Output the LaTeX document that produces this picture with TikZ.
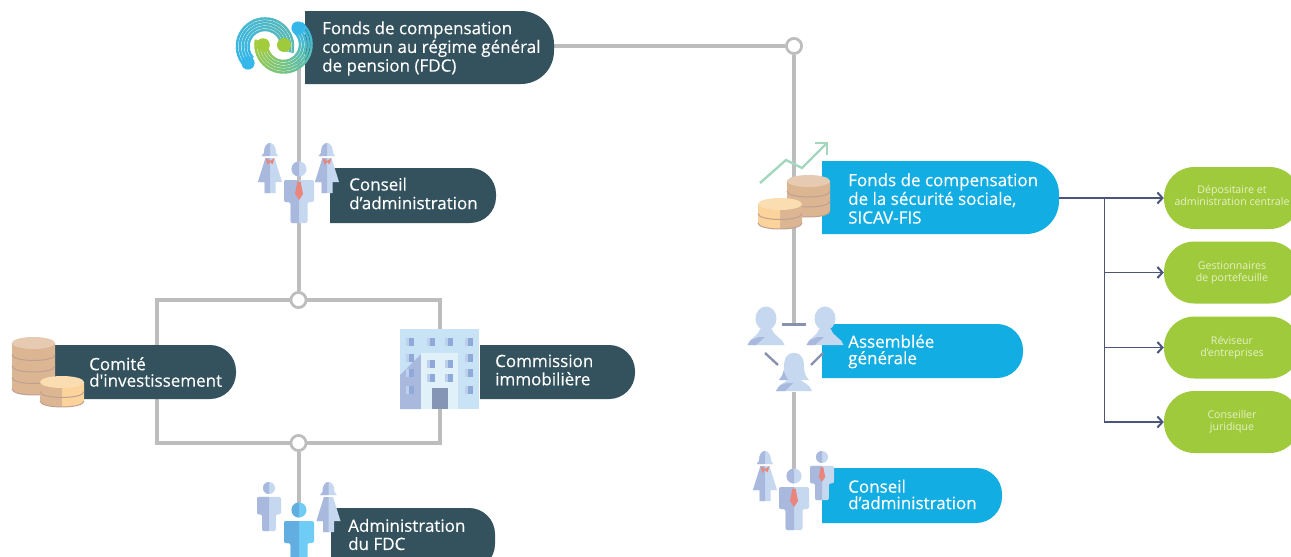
\documentclass[tikz,border=0pt]{standalone}
\usepackage{fontspec}
\setmainfont{Open Sans}
\newfontfamily\labfont{Open Sans}[FakeBold=0.25]
\usetikzlibrary{fit,arrows.meta,calc}
\definecolor{dk}{HTML}{34525E}
\definecolor{bl}{HTML}{12ADE3}
\definecolor{gr}{HTML}{9FCA3C}
\definecolor{grtx}{HTML}{E6F1C6}
\definecolor{ln}{HTML}{BDBDBD}
\definecolor{sl}{HTML}{4A5578}
\definecolor{pL}{HTML}{A9B9DE}
\definecolor{pR}{HTML}{C6D8F0}
\definecolor{tie}{HTML}{E9857A}
\definecolor{bL}{HTML}{62AEE0}
\definecolor{bR}{HTML}{6FCDF5}
\definecolor{cT}{HTML}{E6CBB2}
\definecolor{cB}{HTML}{DCB592}
\definecolor{cS}{HTML}{FCD39A}
\definecolor{cST}{HTML}{FBDDB2}
\definecolor{cLn}{HTML}{BFA092}
\definecolor{lgA}{HTML}{35B7EA}
\definecolor{lgB}{HTML}{5FB9AE}
\definecolor{lgC}{HTML}{A3CC3C}
\definecolor{trend}{HTML}{A3D8BF}
\definecolor{bdg}{HTML}{C9E3F6}
\definecolor{bdgin}{HTML}{E0F1F9}
\definecolor{door}{HTML}{8595B5}
\definecolor{win}{HTML}{8FA9D8}
\definecolor{winl}{HTML}{BED0EC}
\definecolor{tick}{HTML}{8891AD}
\tikzset{
  x=1pt,y=-1pt,
  lab/.style={text=white,align=left,inner sep=0pt,anchor=west},
  wire/.style={draw=ln,line width=4pt},
  junction/.style={circle,draw=ln,line width=2.6pt,fill=white,minimum size=15pt,inner sep=0pt},
  feed/.style={draw=sl,line width=1.8pt},
  feedto/.style={feed,-{Straight Barb[length=5pt,width=11pt,line width=2pt]}},
  greenbox/.style={fill=gr,rounded corners=30.5pt,minimum width=136pt,minimum height=62pt,inner sep=0pt},
  greentext/.style={text=grtx,align=center,inner sep=0pt,font=\fontsize{10.6}{12.4}\selectfont},
}
\newcommand\tab[7]{% name,x0,y0,x1,y1,r,colour
  \fill[#7] (#2,#3) [rounded corners=#6pt] -- (#4,#3) -- (#4,#5) [sharp corners] -- (#2,#5) -- cycle;
  \node[fit={(#2,#3)(#4,#5)},inner sep=0pt] (#1) {};
}
\newcommand\manshape{(0,0) circle (7.5pt) (-15,11) [rounded corners=2pt] -- (15,11) -- (15,33) -- (8.5,33) -- (8.5,54) -- (-8.5,54) -- (-8.5,33) -- (-15,33) -- cycle}
\newcommand\man[6]{\begin{scope}[shift={(#1,#2)},scale=#3]
  \fill[#5] \manshape;
  \begin{scope}\clip (-30,-20) rectangle (0,70); \fill[#4] \manshape; \end{scope}
  \ifnum#6=1 \fill[tie] (-1.6,12.5) -- (1.6,12.5) -- (4,25) -- (0,31) -- (-4,25) -- cycle;\fi
\end{scope}}
\newcommand\womanshape{(-8.3,13) -- (-6,10) .. controls (-6,3) and (-3,0) .. (0,0) .. controls (3,0) and (6,3) .. (6,10) -- (8.3,13) -- cycle
  (-4.5,15) -- (4.5,15) -- (12,39) -- (5.5,39) -- (5.5,50) -- (-5.5,50) -- (-5.5,39) -- (-12,39) -- cycle}
\newcommand\woman[5]{\begin{scope}[shift={(#1,#2)}]
  \fill[#4] \womanshape;
  \begin{scope}\clip (-30,-20) rectangle (0,70); \fill[#3] \womanshape; \end{scope}
  \ifnum#5=1 \fill[tie] (-4.5,15) -- (0,18) -- (4.5,15) -- (2.5,21.5) -- (0,19) -- (-2.5,21.5) -- cycle;\fi
\end{scope}}
\newcommand\coins[9]{\begin{scope}[shift={(#1,#2)}]
  \fill[#8] (-#3,0) -- (-#3,#5) .. controls (-#3,#5+1.33*#4) and (#3,#5+1.33*#4) .. (#3,#5) -- (#3,0) -- cycle;
  \begin{scope}\clip (-40,-20) rectangle (0,90);
    \fill[#7] (-#3,0) -- (-#3,#5) .. controls (-#3,#5+1.33*#4) and (#3,#5+1.33*#4) .. (#3,#5) -- (#3,0) -- cycle;
  \end{scope}
  \foreach \i in {1,...,#6}{
    \draw[cLn,line width=1pt] (-#3,#5*\i/#6) .. controls (-#3,#5*\i/#6+1.33*#4) and (#3,#5*\i/#6+1.33*#4) .. (#3,#5*\i/#6);}
  \fill[#9] (0,0) circle [x radius=#3pt,y radius=#4pt];
\end{scope}}
\newcommand\bust[2]{\begin{scope}[shift={(#1,#2)}]
  \fill[pR] (0,11.5) circle [x radius=10.5pt,y radius=12pt];
  \fill[pR] (-18.5,38) .. controls (-17,31) and (-8,30) .. (-6,22) -- (6,22) .. controls (8,30) and (17,31) .. (18.5,38) -- cycle;
  \fill[pL] (-18.5,38) -- (-15,33) -- (-7,30) -- (-1,30) -- (-10,38) -- cycle;
\end{scope}}
\newcommand\fembust[2]{\begin{scope}[shift={(#1,#2)}]
  \fill[pR] (0,0) .. controls (-9,0) and (-10,8) .. (-10,14) .. controls (-10,20) and (-12,24) .. (-15,27) -- (15,27) .. controls (12,24) and (10,20) .. (10,14) .. controls (10,8) and (9,0) .. (0,0) -- cycle;
  \fill[pL] (-15,27) .. controls (-12.5,24.5) and (-11,21) .. (-10.5,18) -- (-6,27) -- cycle;
  \fill[pR] (-18,38) .. controls (-16,31) and (-8,29) .. (-5,26) -- (5,26) .. controls (8,29) and (16,31) .. (18,38) -- cycle;
  \fill[pL] (-18,38) -- (-14,32.5) -- (-7,30) -- (-1,30) -- (-9,38) -- cycle;
\end{scope}}
\newcommand\logoband[6]{% cx cy start end colA colB
  \foreach \r in {16.5,19.4,22.3,25.2,28.1}{
    \foreach \a in {0,...,29}{
      \pgfmathsetmacro\ang{#3+(#4-#3)*\a/30}
      \pgfmathsetmacro\angb{#3+(#4-#3)*(\a+1.15)/30}
      \pgfmathtruncatemacro\pc{100*\a/29}
      \draw[line width=2.4pt,color=#6!\pc!#5] ($(#1,#2)+(\ang:\r)$) -- ($(#1,#2)+(\angb:\r)$);
    }}
}
\begin{document}
\begin{tikzpicture}
\useasboundingbox (0,0) rectangle (1291,557);
\clip (0,0) rectangle (1291,557);
\fill[white] (0,0) rectangle (1291,557);

\node[junction] (j1) at (794,46) {};
\node[junction] (j2) at (298.5,300) {};
\node[junction] (j3) at (298.5,443) {};
\coordinate (blft) at (157,372);
\coordinate (brgt) at (440,372);
\coordinate (fdcfoot) at (298.5,60);
\coordinate (adminend) at (298.5,512);
\coordinate (agtop) at (794,323);
\coordinate (agfoot) at (794,392);
\coordinate (caend) at (794,472);
\coordinate (trunk) at (1104.5,198);
\coordinate (fdcout) at (554,46);

\draw[wire] (fdcfoot) -- (j2);
\draw[wire] (j2) -| (blft) |- (j3);
\draw[wire] (j2) -| (brgt) |- (j3);
\draw[wire] (j3) -- (adminend);
\draw[wire] (fdcout) -- (j1);
\draw[wire] (j1) -- (agtop);
\draw[wire] (agfoot) -- (caend);
\node[junction] at (j1) {};
\node[junction] at (j2) {};
\node[junction] at (j3) {};

\tab{fdc}{305}{11}{554}{84}{33}{dk}
\tab{ca1}{330}{168}{496}{223}{26}{dk}
\tab{comite}{50}{345}{236}{399}{26}{dk}
\tab{commission}{480}{345}{635}{399}{26}{dk}
\tab{admin}{331}{508}{495}{570}{26}{dk}
\tab{sicav}{822}{161}{1059}{234}{33}{bl}
\tab{ag}{822}{324}{1023}{378}{26}{bl}
\tab{ca2}{822}{468}{1002}{523}{26}{bl}

\node[greenbox] (depo) at (1232,198) {};
\node[greenbox] (gest) at (1232,272.5) {};
\node[greenbox] (rev) at (1232,347.5) {};
\node[greenbox] (cons) at (1232,422) {};
\node[greentext] (depot) at (1232,195.5) {Dépositaire et\\administration centrale};
\node[greentext] (gestt) at (1232,273) {Gestionnaires\\de portefeuille};
\node[greentext] (revt) at (1232,347.5) {Réviseur\\d’entreprises};
\node[greentext] (const) at (1232,422) {Conseiller\\juridique};

\draw[feedto] (sicav.east |- depo) -- (depo.west);
\draw[feedto] (trunk) |- (gest.west);
\draw[feedto] (trunk) |- (rev.west);
\draw[feedto] (trunk) |- (cons.west);

\node[lab,font=\labfont\fontsize{17}{18.7}\selectfont] (t1) at (322,48.5) {Fonds de compensation\\commun au régime général\\de pension (FDC)};
\node[lab,font=\labfont\fontsize{17}{18.7}\selectfont] (t2) at (349,193.5) {Conseil\\d’administration};
\node[lab,font=\labfont\fontsize{17}{16.5}\selectfont] (t3) at (89,372) {Comité\\d'investissement};
\node[lab,font=\labfont\fontsize{17}{18.2}\selectfont] (t4) at (495,370) {Commission\\immobilière};
\node[lab,font=\labfont\fontsize{17}{18.2}\selectfont] (t5) at (348,534.5) {Administration\\du FDC};
\node[lab,font=\labfont\fontsize{17}{18.7}\selectfont] (t6) at (848,198.5) {Fonds de compensation\\de la sécurité sociale,\\SICAV-FIS};
\node[lab,font=\labfont\fontsize{17}{16.5}\selectfont] (t7) at (848,351.5) {Assemblée\\générale};
\node[lab,font=\labfont\fontsize{17}{16.5}\selectfont] (t8) at (848,494.5) {Conseil\\d’administration};

\logoband{265}{46.5}{137}{372}{lgA}{lgB}
\logoband{283.5}{44.5}{190}{-49}{lgC}{lgA}
\fill[lgA] (248,63) circle (6.6pt);
\fill[lgA] (298,28) circle (6.6pt);
\fill[gr] (284,45) circle (7pt);
\fill[lgC] (263,45) circle (6.8pt);

\woman{270}{143}{pL}{pR}{1}
\woman{327}{143}{pL}{pR}{1}
\man{299}{169}{1}{pL}{pR}{1}
\man{269}{488}{0.8}{pL}{pR}{0}
\woman{328.5}{482}{pL}{pR}{0}
\man{299}{510}{1}{bL}{bR}{0}
\woman{765}{451}{pL}{pR}{1}
\man{822}{457}{0.8}{pL}{pR}{1}
\man{794}{476}{1}{pL}{pR}{1}

\coins{33.5}{343}{21.5}{6}{46}{4}{cB}{cB}{cT}
\coins{62}{382}{22}{6}{19}{2}{cB}{cS}{cST}
\coins{808.5}{181}{21.5}{6}{30}{3}{cB}{cB}{cT}
\coins{780}{204}{22}{6}{19}{2}{cS}{cB}{cST}

\draw[trend,line width=2.4pt] (760,183) -- (786,160) -- (802,168) -- (826,144);
\draw[trend,line width=2.4pt] (815,143) -- (827,143) -- (827,155);

\fill[bdg] (400,329) rectangle (479,409);
\fill[pL] (400,375) -- (421,354) -- (421,409) -- (400,409) -- cycle;
\fill[bdgin] (421,353) rectangle (458,409);
\fill[door] (432,388) rectangle (448,409);
\foreach \px/\py in {406/338,427/338,445/338,465/338,406/354,465/354,406/369,465/369,406/386,465/386,427/360,445/360,427/374,445/374}{
  \fill[win] (\px,\py) rectangle ++(8,8);
  \fill[winl] (\px,\py) rectangle ++(3,8);
}

\bust{766}{307}
\bust{825}{307}
\fembust{794}{353}
\draw[tick,line width=2.4pt] (782,324.5) -- (806,324.5);
\draw[tick,line width=2.4pt] (765,353) -- (778,365);
\draw[tick,line width=2.4pt] (823,353) -- (811,365);
\end{tikzpicture}
\end{document}
